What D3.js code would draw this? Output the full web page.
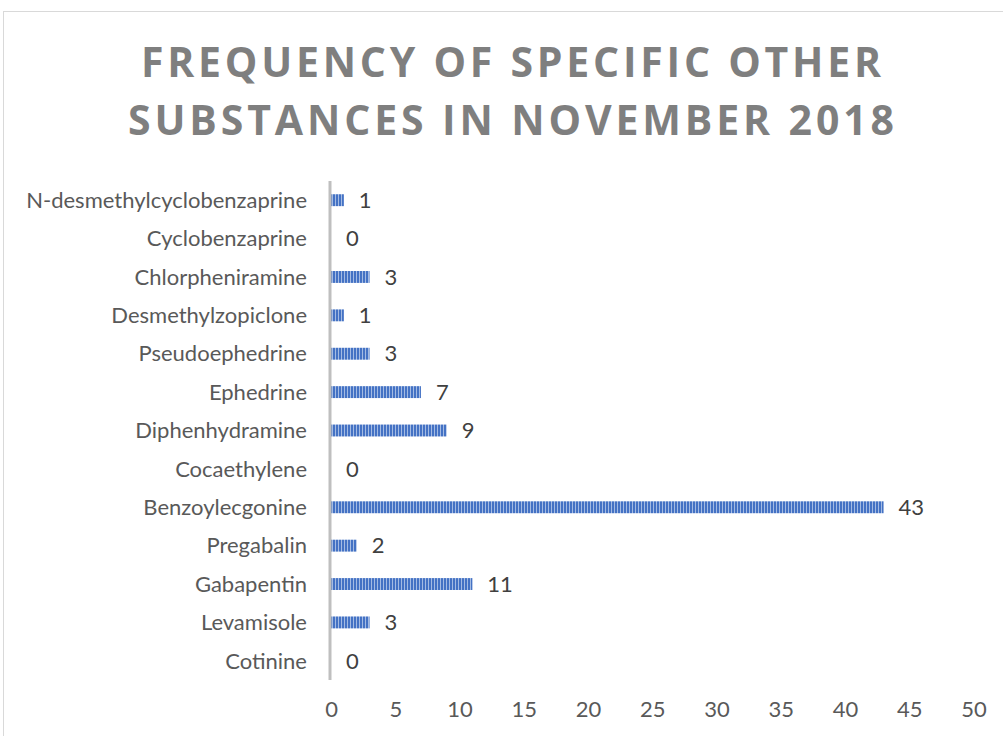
<!DOCTYPE html>
<html>
<head>
<meta charset="utf-8">
<script src="https://cdn.jsdelivr.net/npm/d3@7/dist/d3.min.js"></script>
<style>
  html, body { margin: 0; padding: 0; background: #fff; }
  svg { display: block; }
</style>
</head>
<body>
<svg id="chart" width="1003" height="736"></svg>
<script>
// Substances, listed top to bottom as they appear on the chart
const categories = [
  "N-desmethylcyclobenzaprine",
  "Cyclobenzaprine",
  "Chlorpheniramine",
  "Desmethylzopiclone",
  "Pseudoephedrine",
  "Ephedrine",
  "Diphenhydramine",
  "Cocaethylene",
  "Benzoylecgonine",
  "Pregabalin",
  "Gabapentin",
  "Levamisole",
  "Cotinine"
];
// Number of cases per substance
const counts = [1, 0, 3, 1, 3, 7, 9, 0, 43, 2, 11, 3, 0];
const xTicks = [0, 5, 10, 15, 20, 25, 30, 35, 40, 45, 50];
const titleLines = ["FREQUENCY OF SPECIFIC OTHER", "SUBSTANCES IN NOVEMBER 2018"];

const svg = d3.select("#chart");
const labelFont = "Lato, 'Open Sans', sans-serif";
const labelSize = 22;

// Striped fill for the bars
const defs = svg.append("defs");
const pat = defs.append("pattern")
  .attr("id", "stripes")
  .attr("patternUnits", "userSpaceOnUse")
  .attr("width", 3).attr("height", 10);
pat.append("rect").attr("width", 3).attr("height", 10).attr("fill", "#4472c4");
pat.append("rect").attr("x", 2).attr("width", 1).attr("height", 10).attr("fill", "#a4bbe3");

// Chart frame
svg.append("rect")
  .attr("x", 3.5).attr("y", 11.5)
  .attr("width", 1010).attr("height", 740)
  .attr("fill", "none").attr("stroke", "#d9d9d9").attr("stroke-width", 1);

// Title
const titleWidths = [740, 766];
const titleBaselines = [77, 135];
svg.append("g").selectAll("text")
  .data(titleLines)
  .join("text")
  .attr("x", 511)
  .attr("y", (d, i) => titleBaselines[i])
  .attr("text-anchor", "middle")
  .attr("font-family", "'Open Sans', sans-serif")
  .attr("font-weight", "bold")
  .attr("font-size", 41)
  .attr("fill", "#7f7f7f")
  .attr("textLength", (d, i) => titleWidths[i])
  .attr("lengthAdjust", "spacing")
  .text(d => d);

// Scales
const x = d3.scaleLinear().domain([0, 50]).range([331, 973.5]);
const y = d3.scaleBand().domain(categories).range([181, 680]).paddingInner(0.69).paddingOuter(0.345);

// Bars
svg.append("g").selectAll("rect")
  .data(categories)
  .join("rect")
  .attr("x", x(0))
  .attr("y", d => y(d))
  .attr("width", (d, i) => x(counts[i]) - x(0))
  .attr("height", y.bandwidth())
  .attr("fill", "url(#stripes)");

// Category axis line
svg.append("line")
  .attr("x1", 330).attr("x2", 330)
  .attr("y1", 181).attr("y2", 680)
  .attr("stroke", "#bfbfbf").attr("stroke-width", 3);

// Category labels
svg.append("g").selectAll("text")
  .data(categories)
  .join("text")
  .attr("x", 307)
  .attr("y", d => y(d) + y.bandwidth() / 2)
  .attr("dy", "0.35em")
  .attr("text-anchor", "end")
  .attr("font-family", labelFont)
  .attr("font-size", labelSize)
  .attr("fill", "#595959")
  .text(d => d);

// Value labels
svg.append("g").selectAll("text")
  .data(categories)
  .join("text")
  .attr("x", (d, i) => x(counts[i]) + 15)
  .attr("y", d => y(d) + y.bandwidth() / 2)
  .attr("dy", "0.35em")
  .attr("font-family", labelFont)
  .attr("font-size", labelSize)
  .attr("fill", "#404040")
  .text((d, i) => counts[i]);

// Value axis tick labels
const xAxis = svg.append("g")
  .attr("transform", "translate(0,700)")
  .call(d3.axisBottom(x).tickValues(xTicks).tickSize(0).tickPadding(0).tickFormat(d3.format("d")));
xAxis.select(".domain").remove();
xAxis.selectAll("text")
  .attr("font-family", labelFont)
  .attr("font-size", labelSize)
  .attr("fill", "#595959")
  .attr("dy", "0.71em")
  .attr("y", 1);
</script>
</body>
</html>
